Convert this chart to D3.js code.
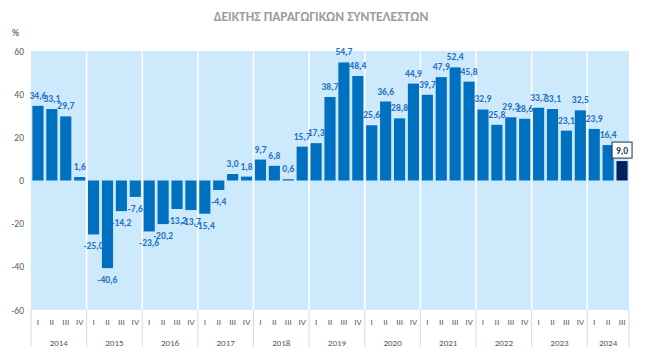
<!DOCTYPE html>
<html>
<head>
<meta charset="utf-8">
<script src="https://cdn.jsdelivr.net/npm/d3@7"></script>
<style>
  body { margin: 0; background: #fff; }
  svg { display: block; font-family: Carlito, Lato, "Open Sans", sans-serif; }
</style>
</head>
<body>
<div id="chart"></div>
<script>
var years = ["2014", "2015", "2016", "2017", "2018", "2019", "2020", "2021", "2022", "2023", "2024"];
var quarters = ["I", "II", "III", "IV"];
var values = [
    34.6, 33.1, 29.7, 1.6,
    -25.0, -40.6, -14.2, -7.6,
    -23.6, -20.2, -13.2, -13.7,
    -15.4, -4.4, 3.0, 1.8,
    9.7, 6.8, 0.6, 15.7,
    17.3, 38.7, 54.7, 48.4,
    25.6, 36.6, 28.8, 44.9,
    39.7, 47.9, 52.4, 45.8,
    32.9, 25.8, 29.3, 28.6,
    33.7, 33.1, 23.1, 32.5,
    23.9, 16.4, 9.0
];
var yTicks = [60, 40, 20, 0, -20, -40, -60];

var width = 655, height = 362;
var margin = { top: 51, right: 26, bottom: 52, left: 31 };

// build one row per quarter
var data = values.map(function (v, i) {
    return {
        key: i,
        year: years[Math.floor(i / 4)],
        quarter: quarters[i % 4],
        value: v
    };
});

var svg = d3.select("#chart").append("svg")
    .attr("width", width)
    .attr("height", height);

var x = d3.scaleBand()
    .domain(data.map(function (d) { return d.key; }))
    .range([margin.left, width - margin.right])
    .paddingInner(0.2)
    .paddingOuter(0.1);

var y = d3.scaleLinear()
    .domain([-60, 60])
    .range([height - margin.bottom, margin.top]);

var step = x.step();
var plotLeft = margin.left, plotRight = width - margin.right;
var plotTop = y(60), plotBottom = y(-60);

// title
svg.append("text")
    .attr("x", 321).attr("y", 21)
    .attr("text-anchor", "middle")
    .attr("fill", "#9c9e96")
    .attr("font-size", 13.5)
    .attr("font-weight", "bold")
    .text("ΔΕΙΚΤΗΣ ΠΑΡΑΓΩΓΙΚΩΝ ΣΥΝΤΕΛΕΣΤΩΝ");

svg.append("text")
    .attr("x", 12).attr("y", 36)
    .attr("fill", "#404040")
    .attr("font-size", 10)
    .text("%");

// plot background
svg.append("rect")
    .attr("x", plotLeft).attr("y", plotTop)
    .attr("width", plotRight - plotLeft)
    .attr("height", plotBottom - plotTop)
    .attr("fill", "#cdeafc");

// year separators inside the plot
var yearStarts = years.map(function (yr, i) { return i * 4; }).slice(1);
svg.append("g").selectAll("line")
    .data(yearStarts)
    .enter().append("line")
    .attr("x1", function (k) { return x(k) - step * 0.1; })
    .attr("x2", function (k) { return x(k) - step * 0.1; })
    .attr("y1", plotTop).attr("y2", plotBottom)
    .attr("stroke", "#ffffff")
    .attr("stroke-width", 1.5);

// y axis labels
svg.append("g").selectAll("text")
    .data(yTicks)
    .enter().append("text")
    .attr("x", 24)
    .attr("y", function (d) { return y(d) + 3.5; })
    .attr("text-anchor", "end")
    .attr("fill", "#595959")
    .attr("font-size", 9.5)
    .text(function (d) { return d; });

// bars
var lastIdx = data.length - 1;
svg.append("g").selectAll("rect")
    .data(data)
    .enter().append("rect")
    .attr("x", function (d) { return x(d.key); })
    .attr("width", x.bandwidth())
    .attr("y", function (d) { return y(Math.max(0, d.value)); })
    .attr("height", function (d) { return Math.abs(y(d.value) - y(0)); })
    .attr("fill", function (d) { return d.key === lastIdx ? "#002060" : "#0070c0"; });

function fmt(v) { return v.toFixed(1).replace(".", ","); }

// value labels
svg.append("g").selectAll("text")
    .data(data.filter(function (d) { return d.key !== lastIdx; }))
    .enter().append("text")
    .attr("x", function (d) { return x(d.key) + x.bandwidth() / 2; })
    .attr("y", function (d) { return d.value >= 0 ? y(d.value) - 7 : y(d.value) + 15; })
    .attr("text-anchor", "middle")
    .attr("fill", "#1f70c1")
    .attr("font-size", 9.5)
    .attr("font-weight", "bold")
    .text(function (d) { return fmt(d.value); });

// highlighted last value
var last = data[lastIdx];
var lx = x(last.key) + x.bandwidth() / 2;
var ly = y(last.value) - 11;
svg.append("rect")
    .attr("x", lx - 10).attr("y", ly - 8)
    .attr("width", 20).attr("height", 16)
    .attr("fill", "#ffffff")
    .attr("stroke", "#1f2f4f")
    .attr("stroke-width", 1);
svg.append("text")
    .attr("x", lx).attr("y", ly + 3.5)
    .attr("text-anchor", "middle")
    .attr("fill", "#1f3864")
    .attr("font-size", 9.5)
    .attr("font-weight", "bold")
    .text(fmt(last.value));

// x axis: quarter labels
svg.append("g").selectAll("text")
    .data(data)
    .enter().append("text")
    .attr("x", function (d) { return x(d.key) + x.bandwidth() / 2; })
    .attr("y", plotBottom + 15)
    .attr("text-anchor", "middle")
    .attr("fill", "#595959")
    .attr("font-size", 9)
    .text(function (d) { return d.quarter; });

// x axis: year labels
svg.append("g").selectAll("text")
    .data(years)
    .enter().append("text")
    .attr("x", function (yr, i) {
        var first = i * 4, lastK = Math.min(i * 4 + 3, lastIdx);
        return (x(first) + x(lastK) + x.bandwidth()) / 2;
    })
    .attr("y", plotBottom + 36)
    .attr("text-anchor", "middle")
    .attr("fill", "#595959")
    .attr("font-size", 9)
    .text(function (d) { return d; });

// x axis: separators
var sepX = [plotLeft].concat(yearStarts.map(function (k) { return x(k) - step * 0.1; }), [plotRight]);
svg.append("g").selectAll("line")
    .data(sepX)
    .enter().append("line")
    .attr("x1", function (d) { return d; })
    .attr("x2", function (d) { return d; })
    .attr("y1", plotBottom)
    .attr("y2", plotBottom + 37)
    .attr("stroke", "#d9d9d9")
    .attr("stroke-width", 1);
</script>
</body>
</html>
